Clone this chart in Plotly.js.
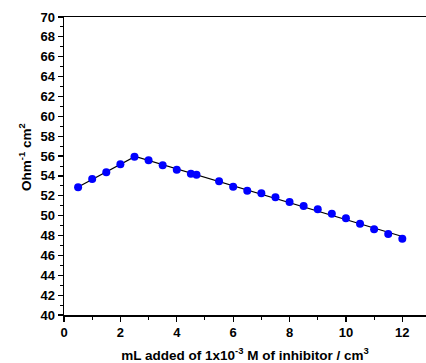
<!DOCTYPE html>
<html>
<head>
<meta charset="utf-8">
<script src="https://cdn.plot.ly/plotly-3.0.1.min.js"></script>
<style>html,body{margin:0;padding:0;background:#fff;}#chart{width:426px;height:363px;}</style>
</head>
<body>
<div id="chart"></div>
<script>
const volumes = [0.5, 1.0, 1.5, 2.0, 2.5, 3.0, 3.5, 4.0, 4.5, 4.7, 5.5, 6.0, 6.5, 7.0, 7.5, 8.0, 8.5, 9.0, 9.5, 10.0, 10.5, 11.0, 11.5, 12.0];
const conductance = [52.86, 53.69, 54.37, 55.17, 55.93, 55.57, 55.07, 54.63, 54.22, 54.12, 53.46, 52.90, 52.52, 52.25, 51.85, 51.38, 50.97, 50.64, 50.20, 49.73, 49.19, 48.63, 48.15, 47.68];
const breakIndex = 4; // index of the break point (end of rising part)
const xTitle = 'mL added of 1x10<sup>-3</sup> M of inhibitor / cm<sup>3</sup>';
const yTitle = 'Ohm<sup>-1</sup> cm<sup>2</sup>';

function fit(xs, ys) {
  const n = xs.length;
  let sx = 0, sy = 0, sxx = 0, sxy = 0;
  for (let i = 0; i < n; i++) { sx += xs[i]; sy += ys[i]; sxx += xs[i]*xs[i]; sxy += xs[i]*ys[i]; }
  const m = (n*sxy - sx*sy) / (n*sxx - sx*sx);
  return { m: m, b: (sy - m*sx)/n };
}
const f1 = fit(volumes.slice(0, breakIndex+1), conductance.slice(0, breakIndex+1));
const f2 = fit(volumes.slice(breakIndex), conductance.slice(breakIndex));
const xi = (f2.b - f1.b) / (f1.m - f2.m);
const x0 = volumes[0], x1 = volumes[volumes.length-1];
const lineX = [x0, xi, x1];
const lineY = [f1.m*x0 + f1.b, f1.m*xi + f1.b, f2.m*x1 + f2.b];

const fam = 'Liberation Sans, Arial, sans-serif';
const boldFont = { family: fam, size: 13, color: '#000', weight: 'bold' };
const traces = [
  { x: lineX, y: lineY, mode: 'lines', line: { color: '#000', width: 1.2 }, hoverinfo: 'skip' },
  { x: volumes, y: conductance, mode: 'markers', marker: { color: '#0000ff', size: 8, symbol: 'circle' } }
];
const layout = {
  width: 426, height: 363,
  margin: { l: 64, r: 0, t: 17, b: 48 },
  showlegend: false,
  paper_bgcolor: '#fff', plot_bgcolor: '#fff',
  font: { family: fam, size: 13, color: '#000' },
  xaxis: {
    range: [0, 12.84], tickvals: [0, 2, 4, 6, 8, 10, 12],
    showgrid: false, zeroline: false,
    showline: true, linecolor: '#000', linewidth: 1.5, mirror: true,
    ticks: 'outside', ticklen: 5, tickwidth: 1.2, tickcolor: '#000',
    minor: { dtick: 1, tick0: 0, ticks: 'outside', ticklen: 3, tickwidth: 1, tickcolor: '#000' },
    tickfont: boldFont,
    title: { text: xTitle, font: { family: fam, size: 13.5, color: '#000', weight: 'bold' }, standoff: 14 }
  },
  yaxis: {
    range: [40, 70], dtick: 2, tick0: 40,
    showgrid: false, zeroline: false,
    showline: true, linecolor: '#000', linewidth: 1.5,
    ticks: 'outside', ticklen: 5, tickwidth: 1.2, tickcolor: '#000',
    minor: { dtick: 1, tick0: 40, ticks: 'outside', ticklen: 3, tickwidth: 1, tickcolor: '#000' },
    tickfont: boldFont
  },
  annotations: [{
    text: yTitle, textangle: -90, showarrow: false,
    xref: 'paper', yref: 'paper', x: -0.108, y: 0.53, xanchor: 'center', yanchor: 'middle',
    font: { family: fam, size: 13.5, color: '#000', weight: 'bold' }
  }]
};
Plotly.newPlot('chart', traces, layout, { displayModeBar: false, staticPlot: true });
</script>
</body>
</html>
